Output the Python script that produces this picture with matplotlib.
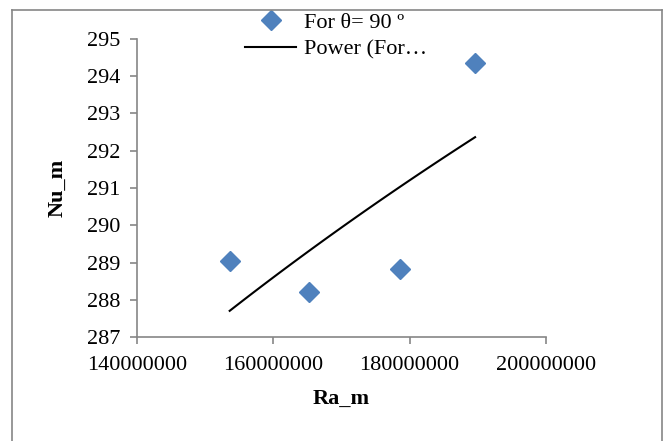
import numpy as np
import matplotlib
matplotlib.use("Agg")
import matplotlib.pyplot as plt
from matplotlib.lines import Line2D

# measured points
ra_m = [153.6e6, 165.3e6, 178.6e6, 189.6e6]
nu_m = [289.04, 288.22, 288.83, 294.35]

x_ticks = [140000000, 160000000, 180000000, 200000000]
y_ticks = [287, 288, 289, 290, 291, 292, 293, 294, 295]

# power trend y = a * x^b, fitted in log-log space
b, log_a = np.polyfit(np.log(ra_m), np.log(nu_m), 1)
x_fit = np.linspace(min(ra_m), max(ra_m), 100)
y_fit = np.exp(log_a) * x_fit**b

plt.rcParams['font.family'] = ['Liberation Serif', 'DejaVu Serif']

fig = plt.figure(figsize=(6.63, 4.41), dpi=100)
ax = fig.add_axes([0.2066, 0.2358, 0.6169, 0.6758])

ax.plot(ra_m, nu_m, linestyle='none', marker='D', markersize=10.5,
        color='#4F81BD', label='For θ= 90 º')
ax.plot(x_fit, y_fit, color='black', linewidth=1.5, label='Power (For…')

ax.set_xlim(140000000, 200000000)
ax.set_ylim(287, 295)
ax.set_xticks(x_ticks)
ax.set_xticklabels([str(t) for t in x_ticks])
ax.set_yticks(y_ticks)

for side in ['top', 'right']:
    ax.spines[side].set_visible(False)
for side in ['left', 'bottom']:
    ax.spines[side].set_color('#868686')
    ax.spines[side].set_linewidth(1.2)
ax.tick_params(axis='both', direction='out', length=5, width=1.2,
               color='#868686', labelsize=16)
ax.tick_params(axis='y', pad=7)
ax.tick_params(axis='x', pad=9)

ax.set_xlabel('Ra_m', fontsize=16, fontweight='bold', labelpad=10)
ax.set_ylabel('Nu_m', fontsize=16, fontweight='bold', labelpad=14)

ax.legend(loc='upper left', bbox_to_anchor=(245 / 663, 1 - 12 / 441),
          bbox_transform=fig.transFigure, frameon=False, fontsize=16,
          handlelength=2.3, handletextpad=0.35, labelspacing=0.3,
          borderpad=0, borderaxespad=0)

# outer chart border
W, H = 663, 441
fx = lambda p: p / W
fy = lambda p: 1 - p / H
for xs, ys in [((12, 12), (10, 441)), ((12, 662), (10, 10)), ((662, 662), (10, 441))]:
    fig.add_artist(Line2D([fx(v) for v in xs], [fy(v) for v in ys],
                          color='#868686', linewidth=1.2))

fig.savefig('out.png', dpi=100)
